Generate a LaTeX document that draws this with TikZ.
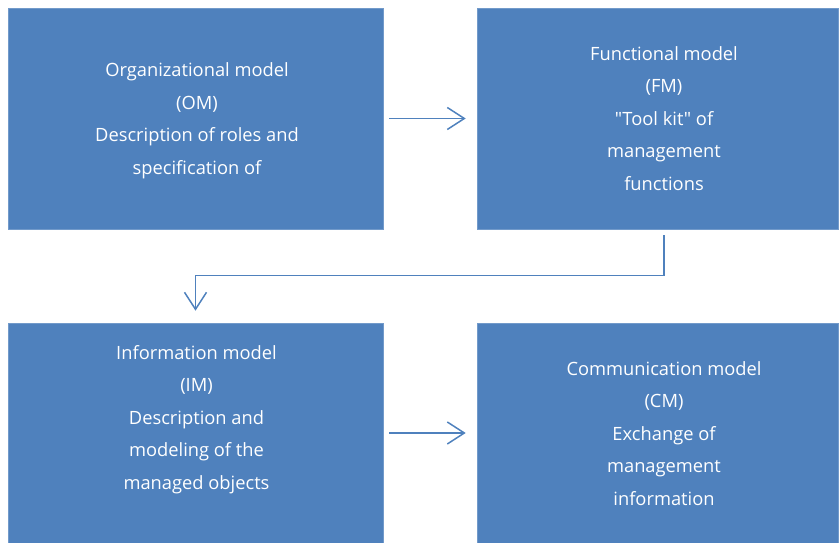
\documentclass[tikz,border=0pt]{standalone}
\usepackage{fontspec}
\setmainfont{Open Sans}[Ligatures=TeXOff]
\usetikzlibrary{arrows.meta,calc}
\definecolor{boxblue}{HTML}{4F81BD}
\tikzset{
  model/.style={fill=boxblue, draw=boxblue!80!white, line width=0.6pt, inner sep=0pt},
  caption/.style={text=white, align=center, inner sep=0pt,
    font=\fontsize{18.3}{32.5}\selectfont},
  flow/.style={draw=boxblue, line width=1.5pt,
    -{Straight Barb[length=17pt,width=22pt,line width=1.5pt]}, shorten <=6pt, shorten >=11pt}
}
\begin{document}
\begin{tikzpicture}[x=1pt,y=1pt]
\useasboundingbox (0,0) rectangle (839,543);
% the four model boxes
\node[model, minimum width=375pt, minimum height=221pt] (OM) at (195.5,424.5) {};
\node[model, minimum width=361pt, minimum height=221pt] (FM) at (657.5,424.5) {};
\node[model, minimum width=375pt, minimum height=220pt] (IM) at (195.5,110) {};
\node[model, minimum width=361pt, minimum height=220pt] (CM) at (657.5,110) {};
% their captions
\node[caption] (OMt) at ([xshift=1.5pt,yshift=-2.5pt]OM.center)
  {Organizational model\\(OM)\\Description of roles and\\specification of};
\node[caption] (FMt) at ([xshift=6.5pt]FM.center)
  {Functional model\\(FM)\\"Tool kit" of\\management\\functions};
\node[caption] (IMt) at ([xshift=1pt,yshift=13.5pt]IM.center)
  {Information model\\(IM)\\Description and\\modeling of the\\managed objects};
\node[caption] (CMt) at ([xshift=6.5pt,yshift=-0.5pt]CM.center)
  {Communication model\\(CM)\\Exchange of\\management\\information};
% connectors
\coordinate (turn) at ($(IM.north)+(0,47)$);
\draw[flow] (OM.east) -- (FM.west);
\draw[flow, shorten >=12pt] ([xshift=6.5pt]FM.south) |- (turn) -- (IM.north);
\draw[flow] (IM.east) -- (CM.west);
\end{tikzpicture}
\end{document}
